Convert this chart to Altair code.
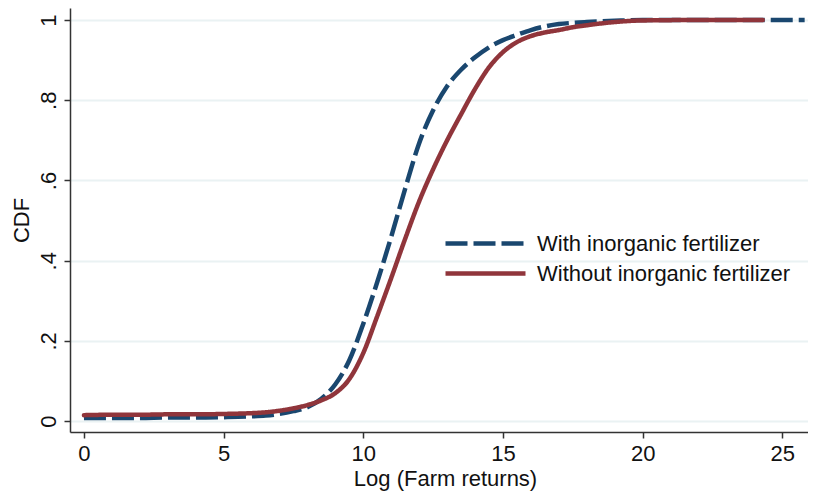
import altair as alt
import pandas as pd

series_names = ["With inorganic fertilizer", "Without inorganic fertilizer"]

with_x = [0, 1, 2, 3, 4, 5, 6, 6.5, 7, 7.5, 8, 8.5, 9, 9.5, 10, 10.5, 11, 11.5,
          12, 12.5, 13, 13.5, 14, 14.5, 15, 15.5, 16, 16.5, 17, 17.5, 18, 19, 20,
          22, 24, 25.8]
with_y = [0.008, 0.008, 0.008, 0.009, 0.009, 0.010, 0.012, 0.014, 0.018, 0.025,
          0.035, 0.056, 0.092, 0.152, 0.243, 0.347, 0.46, 0.58, 0.693, 0.775,
          0.835, 0.876, 0.907, 0.932, 0.95, 0.963, 0.975, 0.984, 0.99, 0.993,
          0.995, 0.998, 1.0, 1.0, 1.0, 1.0]

without_x = [0, 1, 2, 3, 4, 5, 6, 6.5, 7, 7.5, 8, 8.5, 9, 9.5, 10, 10.5, 11,
             11.5, 12, 12.5, 13, 13.5, 14, 14.5, 15, 15.5, 16, 16.5, 17, 17.5,
             18, 19, 20, 22, 24.3]
without_y = [0.015, 0.016, 0.016, 0.017, 0.017, 0.018, 0.020, 0.022, 0.026,
             0.032, 0.040, 0.052, 0.070, 0.105, 0.17, 0.262, 0.357, 0.455, 0.548,
             0.628, 0.70, 0.765, 0.828, 0.882, 0.92, 0.945, 0.96, 0.969, 0.975,
             0.982, 0.987, 0.995, 0.999, 1.0, 1.0]

x_ticks = [0, 5, 10, 15, 20, 25]
y_ticks = [0, 0.2, 0.4, 0.6, 0.8, 1]

colors = ["#1a476f", "#90353b"]
dashes = [[22, 6], [1, 0]]

df = pd.concat([
    pd.DataFrame({"x": with_x, "y": with_y, "series": series_names[0]}),
    pd.DataFrame({"x": without_x, "y": without_y, "series": series_names[1]}),
])

FONT = "Liberation Sans"
FS = 22

x_enc = alt.X("x:Q",
              scale=alt.Scale(domain=[-0.5, 25.92], nice=False, zero=False),
              axis=alt.Axis(values=x_ticks, title="Log (Farm returns)", grid=False,
                            labelPadding=5, titlePadding=4, format="d",
                            titleX=375))
y_enc = alt.Y("y:Q",
              scale=alt.Scale(domain=[-0.027, 1.03], nice=False, zero=False),
              axis=alt.Axis(values=y_ticks, title="CDF", grid=True,
                            gridColor="#eaf2f3", gridWidth=2,
                            labelAngle=270, labelAlign="center",
                            labelBaseline="bottom", labelPadding=4,
                            titlePadding=4,
                            labelExpr="datum.value < 0.05 ? '0' : datum.value > 0.95 ? '1' : '.' + toString(round(datum.value*10))"))
color_enc = alt.Color("series:N",
                      scale=alt.Scale(domain=series_names, range=colors),
                      legend=alt.Legend(title=None, orient="none",
                                        legendX=403, legendY=223,
                                        symbolType="M-4,0H4", symbolSize=400,
                                        symbolStrokeWidth=4.5,
                                        labelFontSize=FS, labelFont=FONT,
                                        labelColor="#111", labelLimit=400,
                                        rowPadding=6, labelOffset=39,
                                        padding=0))
dash_enc = alt.StrokeDash("series:N",
                          scale=alt.Scale(domain=series_names, range=dashes),
                          legend=None)

base = alt.Chart(df).encode(x=x_enc, y=y_enc, color=color_enc, strokeDash=dash_enc)

blue = base.transform_filter(alt.datum.series == series_names[0]).mark_line(
    strokeWidth=4.5, interpolate="monotone")
red = base.transform_filter(alt.datum.series == series_names[1]).mark_line(
    strokeWidth=4.5, interpolate="monotone", strokeCap="round")

chart = alt.layer(blue, red).properties(
    width=738, height=424,
    autosize=alt.AutoSizeParams(type="none"),
    padding={"left": 62, "top": 0, "right": 0, "bottom": 62},
).configure_view(stroke=None).configure_axis(
    labelFont=FONT, titleFont=FONT, labelFontSize=FS, titleFontSize=FS,
    titleFontWeight="normal", labelColor="#111", titleColor="#111",
    domainColor="#333", domainWidth=1.5, tickColor="#333", tickWidth=1.5,
    tickSize=6,
)

chart.save("out.html", embed_options={"renderer": "svg", "actions": False})
